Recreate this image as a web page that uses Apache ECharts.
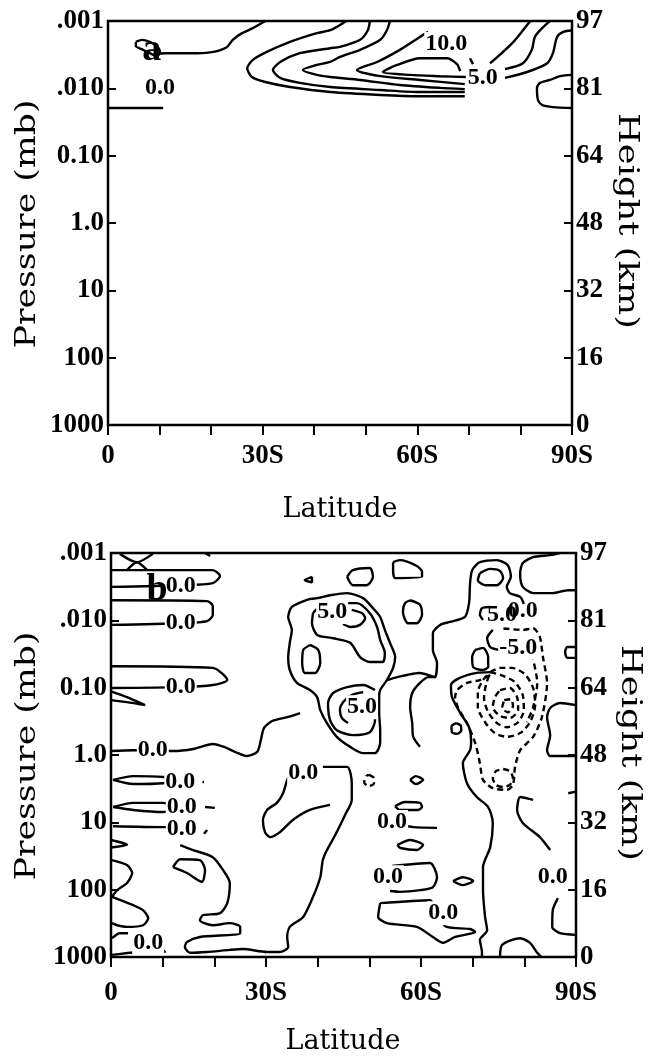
<!DOCTYPE html>
<html><head><meta charset="utf-8">
<script src="https://cdn.jsdelivr.net/npm/echarts@6/dist/echarts.min.js"></script>
<style>html,body{margin:0;padding:0;background:#fff}#c{width:651px;height:1056px}</style>
</head><body><div id="c"></div>
<script>
// ---- axes ----
const SCALE_H = 7; // km, log-pressure height
const pressureTicks = [0.001, 0.01, 0.1, 1, 10, 100, 1000];
const pressureLabels = ['.001', '.010', '0.10', '1.0', '10', '100', '1000'];
const latLabelValues = [0, 30, 60, 90];
const latLabels = ['0', '30S', '60S', '90S'];
const heightTicks = pressureTicks.map(p => SCALE_H * Math.log(1000 / p));
const zTop = SCALE_H * Math.log(1000 / 0.001);

// ---- panel a: contours [latitude (deg S), log-pressure height (km)] ----
const a_c1 = [[30.5,96.7],[28.1,95.0],[26.0,93.8],[24.2,92.2],[23.1,90.5],[20.4,89.3],[17.3,89.0],[11.4,89.0],[9.3,88.9]];
const a_c1loop = [[5.4,91.7],[6.6,92.2],[8.1,91.7],[9.5,90.7],[10.1,89.3],[9.5,88.3],[8.1,89.0],[6.8,89.8],[5.4,90.7],[5.4,91.7]];
const a_zero = [[0,75.9],[10.7,75.9]];
const a_c3 = [[46.2,96.7],[45.6,96.2],[43.1,94.5],[40.5,93.8],[35.3,91.7],[30.8,89.3],[28.1,87.4],[27.0,85.4],[27.9,83.3],[30.5,82.1],[35.3,80.9],[43.1,79.7],[52.8,79.0],[60.5,78.7],[69.2,78.7]];
const a_c4 = [[50.8,96.7],[50.4,94.5],[48.9,92.2],[45.0,90.5],[43.1,90.2],[37.2,89.0],[33.4,86.9],[32.0,85.0],[33.4,83.1],[37.2,81.9],[43.1,80.9],[52.8,80.2],[60.5,79.7],[69.2,79.7]];
const a_c5 = [[54.7,96.7],[54.1,94.5],[52.8,92.2],[48.9,89.8],[45.0,88.1],[43.1,86.9],[40.5,86.2],[37.8,85.0],[40.5,83.8],[43.1,83.3],[48.9,82.6],[56.6,81.4],[64.4,80.7],[69.2,80.4]];
const a_c6 = [[62.1,94.1],[60.5,92.9],[56.6,89.8],[52.2,86.9],[48.3,85.0],[52.8,83.5],[60.5,82.6],[69.2,81.6]];
const a_c7 = [[69.4,83.3],[64.4,83.5],[58.6,83.8],[53.3,84.5],[56.1,86.2],[60.5,87.8],[65.8,87.8],[67.7,86.4],[68.3,84.7]];
const a_tick = [[70.2,87.8],[70.8,86.4]];
const a_r1 = [[77.0,83.1],[81.3,84.5],[85.2,86.6],[86.3,89.0],[87.1,92.9],[88.3,94.1],[90,94.5]];
const a_r2 = [[77.0,85.2],[80.5,86.6],[82.2,89.8],[82.8,92.9],[84.2,95.0],[85.7,96.7]];
const a_r3 = [[74.1,86.6],[76.0,88.6],[78.4,91.4],[80.5,94.5],[81.9,96.7]];
const a_r4 = [[90,83.8],[87.7,83.5],[85.7,82.6],[83.8,81.9],[83.2,80.7],[83.4,77.8],[84.2,76.6],[86.3,76.1],[90,75.9]];
const a_labels = [[10.1,80.7,'0.0'],[65.6,91.2,'10.0'],[72.7,83.1,'5.0']];
const a_letter = [8.5, 89.8, 'a'];

// ---- panel b: contours ----
const b_x1 = [[1.7,96.5],[5.0,94.5],[8.1,96.5]];
const b_x2 = [[3.1,92.6],[5.0,94.5],[7.0,92.6]];
const b_dot = [[18.2,96.7],[19.2,96.0]];
const b_z1 = [[0,92.6],[19.7,92.6],[21.1,91.2],[19.7,89.5],[13.5,89.0],[0,88.6]];
const b_z2 = [[0,85.4],[18.6,85.2],[19.7,84.0],[19.7,81.9],[18.6,80.4],[13.5,79.9],[0,79.5]];
const b_z3 = [[0,69.6],[19.7,69.2],[22.5,66.3],[19.7,65.1],[13.5,64.6],[0,64.4]];
const b_z3w = [[0,63.6],[3.1,62.2],[6.6,60.3],[3.1,61.0],[0,61.5]];
const b_z4 = [[0,49.3],[4.3,49.5],[12.0,49.3],[15.9,49.8],[19.7,51.0],[22.1,50.2],[24.0,49.1],[26.3,48.1],[28.3,49.1],[29.0,51.9],[29.6,54.8],[31.2,56.5],[34.1,57.4],[36.6,58.4]];
const b_outer = [[38.5,85.7],[35.0,83.8],[34.3,81.4],[35.0,78.3],[34.6,75.2],[34.3,71.8],[34.6,68.7],[36.0,65.6],[38.5,63.9],[39.9,62.2],[40.5,59.1],[41.8,56.0],[43.7,52.7],[46.3,50.3],[48.8,48.8],[51.1,48.8],[52.1,51.2],[52.1,54.3],[51.9,58.4],[51.9,62.2],[52.1,63.9],[53.4,66.3],[54.6,69.2],[55.0,71.8],[54.0,75.2],[53.0,78.3],[52.1,81.4],[50.7,83.5],[48.8,85.9],[45.7,87.1],[42.4,86.6],[39.9,85.9],[38.5,85.7]];
const b_link = [[53.4,66.3],[55.4,67.0],[57.3,67.5],[59.6,68.0],[62.7,67.0]];
const b_upMid = [[39.1,82.3],[38.9,79.9],[39.9,77.1],[43.0,76.3],[46.3,75.2],[48.2,71.8],[50.1,70.6],[52.6,70.6],[53.0,72.8],[52.1,75.9],[51.5,79.0],[50.1,82.3],[47.6,84.7],[45.7,84.7],[42.8,84.0],[40.1,83.5],[39.1,82.3]];
const b_upIn = [[46.6,83.1],[48.6,82.3],[49.2,81.1],[48.2,79.5],[46.3,79.0],[44.9,79.7]];
const b_ovalE = [[38.5,74.7],[40.1,73.5],[40.5,70.4],[39.5,68.0],[37.5,68.0],[37.0,70.4],[37.2,73.5],[38.5,74.7]];
const b_loMid = [[51.1,63.9],[48.8,65.1],[45.7,64.6],[43.0,63.2],[42.0,60.8],[42.4,56.7],[43.7,54.3],[46.8,53.1],[50.1,53.8],[51.1,56.7],[51.1,59.1]];
const b_loIn = [[48.8,63.4],[46.6,62.7],[44.9,61.0],[44.3,59.1],[44.7,57.2],[45.9,56.0]];
const b_tri = [[38.9,91.0],[37.5,90.2],[38.9,89.7],[38.9,91.0]];
const b_ovalB = [[45.7,91.0],[46.8,92.6],[50.1,93.1],[50.7,91.0],[49.5,89.0],[46.8,89.0],[45.7,91.0]];
const b_shapeC = [[54.6,94.5],[55.9,95.0],[59.2,93.6],[60.2,92.2],[60.2,91.0],[55.0,90.7],[54.6,92.6],[54.6,94.5]];
const b_ovalD = [[57.9,85.4],[59.8,84.3],[60.2,81.9],[59.2,79.9],[57.5,79.9],[56.5,82.6],[56.9,84.7],[57.9,85.4]];
const b_long = [[59.8,50.3],[58.5,52.7],[58.3,56.0],[57.9,59.8],[58.3,63.2],[59.8,65.6],[61.4,67.0],[62.7,67.0],[63.1,70.4],[62.3,73.5],[62.3,77.5],[63.7,79.5],[65.6,80.2],[68.5,81.4],[69.3,84.7],[69.5,89.5],[69.9,92.6],[71.4,94.5],[74.7,95.0],[76.8,93.8],[77.4,91.0],[76.6,88.6],[77.2,87.1],[79.2,86.2],[79.9,84.5]];
const b_ovalG = [[71.4,91.9],[73.4,92.9],[75.3,92.4],[75.9,90.7],[74.7,89.0],[72.4,89.0],[71.0,90.2],[71.4,91.9]];
const b_topRight = [[86.9,96.7],[85.0,96.2],[81.7,95.7],[79.7,94.3],[79.2,91.9],[79.2,91.0],[79.7,88.6],[81.7,87.1],[85.5,87.1],[88.5,87.8],[90,87.8]];
const b_box = [[90,74.2],[88.3,74.2],[87.9,73.0],[88.3,71.6],[90,71.6]];
const b_rightMid = [[90,60.3],[86.9,60.8],[85.0,59.6],[84.4,57.4],[85.0,53.1],[84.4,49.5],[85.0,48.1],[90,48.1]];
const b_rightLow = [[81.7,37.6],[79.2,38.3],[78.6,35.2],[79.7,32.1],[83.0,28.7],[85.0,25.6]];
const b_rightNotch = [[88.5,39.2],[90,39.6]];
const b_rightBot = [[86.5,14.1],[85.5,11.2],[85.4,7.2],[86.9,5.7],[90,5.3]];
const b_botBump = [[75.3,0],[75.7,2.9],[79.2,4.5],[81.1,3.4],[82.5,1.0],[83.3,0]];
const b_vert = [[71.8,0],[71.8,1.2],[71.4,4.1],[72.8,6.4],[72.4,9.6],[72.0,16.0],[72.0,21.5],[73.4,26.3],[73.9,32.1],[73.0,35.9],[70.8,38.3],[68.9,41.6],[68.1,46.4],[69.5,49.5],[69.7,51.9],[69.3,55.0],[67.6,58.4],[66.0,62.2],[65.8,65.1],[67.5,66.8],[70.8,68.0],[73.4,68.2]];
const b_ovalH = [[66.8,56.0],[67.7,55.4],[67.8,54.2],[66.9,53.4],[66.0,53.8],[65.9,55.2],[66.8,56.0]];
const b_ovalF = [[70.5,73.5],[72.0,74.0],[73.0,71.8],[73.0,69.4],[71.8,68.7],[70.1,69.4],[69.9,71.8],[70.5,73.5]];
const b_paren = [[73.9,78.3],[72.8,76.3],[73.4,74.2],[75.3,73.5]];
const b_bracket = [[73.4,83.8],[71.8,83.5],[71.4,81.9],[72.0,80.7]];
const b_neg1 = [[73.4,67.5],[71.4,66.3],[68.9,65.6],[67.0,63.9],[66.6,62.2],[67.2,59.6],[68.9,56.0],[70.5,51.2],[71.4,46.4],[72.0,42.4],[73.9,40.4],[76.6,40.0],[77.8,41.2],[78.2,45.5],[79.2,49.5],[81.7,52.7],[83.4,57.4],[84.4,65.6],[83.6,71.8],[83.0,76.6],[81.7,78.7],[79.7,78.3],[75.5,78.7]];
const b_neg1b = [[80.5,74.7],[81.7,71.1],[82.5,65.6],[81.7,59.8],[80.5,56.2]];
const b_neg2 = [[73.4,68.2],[75.3,69.2],[77.6,69.2],[80.1,67.7],[81.7,64.4],[82.1,60.3],[81.1,56.2],[79.2,53.6],[76.6,52.7],[74.3,53.6],[72.4,56.2],[71.0,59.8],[71.0,63.4],[72.0,66.3],[73.4,68.2]];
const b_neg3 = [[73.4,68.2],[75.9,67.3],[78.2,65.8],[79.7,62.7],[79.9,59.1],[78.8,56.2],[76.6,55.0],[74.7,56.0],[73.0,58.6],[72.2,62.0],[72.6,65.3],[73.4,68.2]];
const b_neg4 = [[75.3,63.9],[77.2,64.4],[78.6,62.2],[78.8,59.1],[77.2,57.2],[75.3,57.7],[73.9,59.8],[74.3,62.2],[75.3,63.9]];
const b_neg5 = [[76.1,61.5],[77.4,61.7],[77.8,60.1],[76.8,58.6],[75.7,59.6],[76.1,61.5]];
const b_neg6 = [[75.9,45.0],[77.2,44.5],[77.8,42.8],[77.2,41.2],[75.9,40.7],[74.5,41.2],[73.9,42.8],[74.5,44.5],[75.9,45.0]];
const b_neg7 = [[49.9,43.6],[50.9,42.8],[50.9,41.6],[49.9,40.9],[49.0,41.8],[49.4,43.3],[49.9,43.6]];
const b_dia1 = [[57.9,42.4],[59.0,43.3],[60.4,42.4],[59.0,41.4],[57.9,42.4]];
const b_lens3 = [[55.0,36.1],[56.9,37.1],[59.8,36.9],[60.2,35.9],[59.4,35.2],[55.9,35.2],[55.0,36.1]];
const b_mid0 = [[57.5,31.3],[58.5,31.1],[63.1,30.9]];
const b_lens4 = [[55.4,26.8],[57.9,28.0],[60.4,26.8],[59.2,25.6],[56.0,26.1],[55.4,26.8]];
const b_loop5 = [[54.4,21.8],[61.7,22.5],[63.1,19.1],[62.3,16.7],[59.8,16.0],[55.9,15.6],[54.0,15.8]];
const b_dia2 = [[66.2,18.2],[68.1,19.1],[70.1,18.2],[68.1,17.2],[66.2,18.2]];
const b_loop6 = [[52.1,12.9],[61.7,13.6],[63.1,9.6],[65.0,7.2],[69.5,6.7],[70.5,6.0],[66.6,4.8],[64.3,3.4],[62.3,4.8],[59.2,7.2],[53.4,8.1],[51.7,9.6],[52.1,12.9]];
const b_lens1 = [[0.4,42.4],[4.3,43.3],[10.1,43.1],[13.0,42.4],[10.1,41.6],[4.3,41.4],[0.4,42.4]];
const b_lens2 = [[0.4,35.9],[4.3,36.9],[10.1,36.9],[13.0,35.9],[10.1,34.7],[4.3,35.2],[0.4,35.9]];
const b_line3 = [[0.4,31.3],[10.1,31.1],[13.0,31.1]];
const b_marks = [[[17.7,41.9],[18.0,41.9]], [[18.2,35.9],[20.1,35.7]], [[18.6,30.4],[18.0,29.5]]];
const b_w1 = [[0,28.0],[3.1,26.9],[0,26.2]];
const b_w2 = [[0.2,23.2],[3.1,22.0],[4.1,20.1],[3.1,17.7],[1.2,16.0],[0.2,14.4]];
const b_w3 = [[0.2,14.4],[4.3,12.4],[6.2,11.2],[7.2,9.3],[6.2,7.6],[3.1,7.2],[1.2,7.6],[0.2,8.1]];
const b_w4 = [[0.2,4.5],[1.7,5.7],[3.3,5.7]];
const b_w5 = [[0.2,0.5],[5.0,1.2],[10.1,1.7],[10.5,1.0]];
const b_quad = [[12.0,21.5],[13.4,23.4],[17.2,23.2],[18.2,20.8],[17.6,18.0],[14.7,20.1],[12.0,21.5]];
const b_big = [[13.4,26.8],[15.9,25.6],[19.7,23.9],[21.7,20.8],[23.0,17.7],[22.5,12.9],[21.1,10.5],[17.8,10.0],[17.2,8.8],[19.7,7.6],[23.0,8.1],[25.0,7.2],[25.0,5.7],[17.2,4.8],[14.7,3.6],[14.3,2.4],[15.3,1.0],[18.6,1.2],[23.0,1.7],[25.5,1.9],[30.2,1.2],[32.7,1.2],[34.3,2.4],[34.1,4.8],[34.6,7.2],[37.2,9.6],[39.1,14.4],[40.5,19.1],[41.0,23.2],[41.8,25.6],[43.4,29.2],[45.3,34.0],[46.6,37.6],[46.6,41.6],[45.7,45.5],[41.0,45.5]];
const b_hook = [[34.6,43.3],[34.1,42.4],[33.3,39.2],[32.1,36.9],[30.2,35.2],[29.4,32.8],[29.8,29.9],[30.8,28.7],[32.7,29.9],[35.2,32.8],[38.5,35.2],[42.4,36.4]];
const b_labels = [[13.5,88.8,'0.0'],[13.5,80.1,'0.0'],[13.5,64.6,'0.0'],[8.1,49.5,'0.0'],[13.4,41.9,'0.0'],[13.7,35.9,'0.0'],[13.7,30.6,'0.0'],[7.2,3.3,'0.0'],[37.2,44.0,'0.0'],[54.4,32.3,'0.0'],[53.6,19.1,'0.0'],[64.3,10.5,'0.0'],[85.5,19.1,'0.0'],[42.8,82.6,'5.0'],[48.6,59.8,'5.0'],[78.8,74.0,'-5.0']];
const b_overlapLabels = [[75.7,81.9,'5.0'],[79.7,82.8,'0.0']];
const b_letter = [8.9, 87.8, 'b'];

const solidA = [a_c1,a_c1loop,a_zero,a_c3,a_c4,a_c5,a_c6,a_c7,a_tick,a_r1,a_r2,a_r3,a_r4];
const solidB = [b_x1,b_x2,b_dot,b_z1,b_z2,b_z3,b_z3w,b_z4,b_outer,b_link,b_upMid,b_upIn,b_ovalE,b_loMid,b_loIn,b_tri,b_ovalB,b_shapeC,b_ovalD,b_long,b_ovalG,b_topRight,b_box,b_rightMid,b_rightLow,b_rightNotch,b_rightBot,b_botBump,b_vert,b_ovalH,b_ovalF,b_paren,b_bracket,b_dia1,b_lens3,b_mid0,b_lens4,b_loop5,b_dia2,b_loop6,b_lens1,b_lens2,b_line3,...b_marks,b_w1,b_w2,b_w3,b_w4,b_w5,b_quad,b_big,b_hook];
const dashedB = [b_neg1,b_neg1b,b_neg2,b_neg3,b_neg4,b_neg5,b_neg6,b_neg7];

// ---- build ----
const TICK_FONT = 'Liberation Serif';
const grids = [
  {left:108, top:21, width:464, height:404, show:true, borderColor:'#000', borderWidth:2.5, backgroundColor:'transparent'},
  {left:111, top:553, width:465, height:404, show:true, borderColor:'#000', borderWidth:2.5, backgroundColor:'transparent'}
];
function xAx(g, margin){
  return {type:'value', gridIndex:g, min:0, max:90, interval:10, position:'bottom',
    axisLine:{show:false}, splitLine:{show:false},
    axisTick:{show:true, inside:false, length:10, lineStyle:{color:'#000', width:2}},
    axisLabel:{margin:margin, color:'#000', fontFamily:TICK_FONT, fontWeight:'bold', fontSize:27,
      formatter:v => { const i = latLabelValues.indexOf(Math.round(v)); return i >= 0 ? latLabels[i] : ''; }}};
}
function pAx(g){
  return {type:'log', logBase:10, gridIndex:g, min:0.001, max:1000, inverse:true, position:'left',
    axisLine:{show:false}, splitLine:{show:false}, minorTick:{show:false},
    axisTick:{show:true, inside:true, length:8, lineStyle:{color:'#000', width:2}, customValues:pressureTicks},
    axisLabel:{margin:4, color:'#000', fontFamily:TICK_FONT, fontWeight:'bold', fontSize:27, customValues:pressureTicks,
      formatter:v => pressureLabels[Math.round(Math.log10(v)) + 3]}};
}
function hAx(g){
  return {type:'value', gridIndex:g, min:0, max:zTop, position:'right',
    axisLine:{show:false}, splitLine:{show:false},
    axisTick:{show:true, inside:true, length:8, lineStyle:{color:'#000', width:2}, customValues:heightTicks},
    axisLabel:{margin:4, color:'#000', fontFamily:TICK_FONT, fontWeight:'bold', fontSize:27, customValues:heightTicks,
      formatter:v => String(Math.round(v))}};
}
const series = [];
function addLine(data, g, dashed){
  series.push({type:'line', xAxisIndex:g, yAxisIndex:g*2+1, data:data, symbol:'none', showSymbol:false,
    smooth:0.25, silent:true, animation:false, z:3,
    lineStyle:{color:'#000', width:2.4, type: dashed ? [6,4] : 'solid'}});
}
solidA.forEach(d => addLine(d, 0, false));
solidB.forEach(d => addLine(d, 1, false));
dashedB.forEach(d => addLine(d, 1, true));
function addLabels(list, g, bg, size){
  series.push({type:'scatter', xAxisIndex:g, yAxisIndex:g*2+1, symbolSize:0, silent:true, animation:false, z:10,
    itemStyle:{color:'#000', opacity:1},
    data:list.map(l => ({value:[l[0], l[1]], name:l[2]})),
    label:{show:true, position:'inside', formatter:p => p.name, color:'#000', opacity:1,
      textBorderWidth:0, textBorderColor:'transparent', fontFamily:TICK_FONT,
      fontWeight:'bold', fontSize:size, backgroundColor:bg, padding:[0,1]}});
}
addLabels(a_labels, 0, '#fff', 24);
addLabels(b_labels, 1, '#fff', 24);
addLabels(b_overlapLabels, 1, 'transparent', 24);
addLabels([a_letter], 0, 'transparent', 38);
addLabels([b_letter], 1, 'transparent', 38);

const TITLE_FONT = '"DejaVu Serif"';
function title(text, x, y, rot, sx, size){
  return {type:'text', x:x, y:y, rotation:rot, scaleX:sx, scaleY:1,
    style:{text:text, font:'normal ' + size + 'px ' + TITLE_FONT, fill:'#000', align:'center', verticalAlign:'middle'}};
}
const chart = echarts.init(document.getElementById('c'), null, {renderer:'canvas'});
chart.setOption({
  animation:false, backgroundColor:'#fff',
  grid:grids,
  xAxis:[xAx(0,18), xAx(1,23)],
  yAxis:[pAx(0), hAx(0), pAx(1), hAx(1)],
  series:series,
  graphic:[
    title('Pressure (mb)', 28, 224, Math.PI/2, 1.24, 28),
    title('Pressure (mb)', 28, 756, Math.PI/2, 1.24, 28),
    title('Height (km)', 626, 221, -Math.PI/2, 1.26, 28),
    title('Height (km)', 629, 753, -Math.PI/2, 1.26, 28),
    title('Latitude', 340, 510, 0, 1, 27),
    title('Latitude', 343, 1042, 0, 1, 27)
  ]
});
</script></body></html>
